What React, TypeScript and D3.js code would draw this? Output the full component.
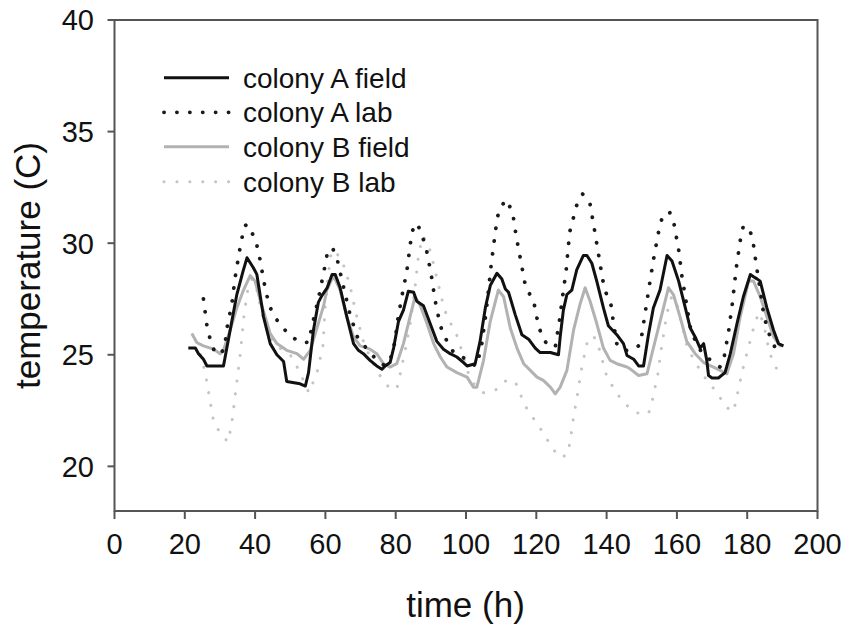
import React from 'react';
import * as d3 from 'd3';

const xTicks = [0, 20, 40, 60, 80, 100, 120, 140, 160, 180, 200];
const yTicks = [20, 25, 30, 35, 40];
const seriesNames = ['colony A field', 'colony A lab', 'colony B field', 'colony B lab'];

const colonyAField: [number, number][] = [
  [21, 25.3], [23, 25.3], [23.9, 25.05], [25.3, 24.8], [26.3, 24.5], [31, 24.5], [32.9, 26.1], [34.8, 27.7],
  [36.5, 28.7], [37.7, 29.35], [39.5, 28.9], [40.5, 28.6], [42.4, 26.7], [44.3, 25.5], [46.2, 25.0], [48.1, 24.7],
  [49, 23.8], [52.8, 23.7], [54.3, 23.6], [55.2, 24.2], [56.6, 26.1], [58, 27.35], [59, 27.65], [60.5, 28.0],
  [61.9, 28.6], [62.8, 28.6], [64.2, 28.0], [66.1, 26.7], [68, 25.5], [69.4, 25.2], [70.8, 25.05], [72.7, 24.75],
  [74.6, 24.5], [76.1, 24.35], [77, 24.5], [78.4, 24.65], [79.4, 25.3], [80.8, 26.5], [82.2, 27.0], [83.6, 27.85],
  [85.1, 27.8], [86, 27.4], [87.9, 27.2], [89.8, 26.4], [91.7, 25.6], [93.6, 25.25], [95.5, 25.05], [97.4, 24.9],
  [99.3, 24.65], [100.3, 24.5], [102.6, 24.6], [104, 25.6], [105.5, 27.1], [106.9, 28.1], [108.8, 28.65], [110.2, 28.4],
  [111.2, 27.95], [112.1, 27.8], [114, 26.8], [115.9, 25.9], [117.8, 25.7], [119.7, 25.3], [121.1, 25.1], [124, 25.1],
  [126.3, 25.0], [126.8, 25.8], [127.7, 27.0], [128.7, 27.7], [130.1, 27.9], [131.5, 28.8], [133.4, 29.45], [134.4, 29.45],
  [135.8, 29.1], [137.2, 28.3], [139.1, 27.1], [140.5, 26.3], [142.9, 25.9], [144.8, 25.5], [145.8, 24.97], [147.7, 24.8],
  [149.1, 24.5], [150.5, 24.5], [151.9, 25.9], [153.3, 27.1], [155.2, 27.9], [157.2, 29.45], [158.6, 29.2], [160.5, 28.3],
  [162.4, 27.1], [163.8, 26.2], [165.2, 25.8], [166.6, 25.3], [167.6, 25.5], [168.5, 24.75], [169, 24.07], [170, 23.96],
  [171.8, 23.96], [173.7, 24.2], [175.2, 25.05], [177.1, 26.4], [178.9, 27.6], [180.9, 28.6], [181.8, 28.5], [182.8, 28.4],
  [183.7, 28.3], [185.6, 27.1], [187.5, 26.1], [188.9, 25.5], [190.3, 25.4],
];

const colonyBField: [number, number][] = [
  [22, 25.95], [23.4, 25.55], [25.3, 25.4], [28.2, 25.25], [30.1, 25.05], [31, 25.2], [32.9, 26.1], [34.8, 27.1],
  [36.7, 27.9], [38.6, 28.55], [40, 28.3], [41.5, 27.4], [42.9, 26.7], [44.3, 25.95], [46.2, 25.5], [49, 25.2],
  [51.9, 25.05], [53.8, 24.8], [55.7, 25.2], [57.6, 26.2], [59.5, 27.2], [60.4, 27.9], [62.3, 28.55], [64.2, 27.9],
  [66.1, 26.7], [68, 25.8], [69.9, 25.4], [72.7, 25.25], [74.6, 25.05], [76.5, 24.6], [78.4, 24.45], [80.3, 24.6],
  [82.2, 25.5], [83.6, 26.4], [85.5, 27.6], [87, 27.2], [88.9, 26.4], [90.8, 25.5], [92.7, 24.9], [94.6, 24.45],
  [97.4, 24.2], [100.3, 24.0], [102.1, 23.55], [103.1, 23.55], [105, 24.75], [106.9, 26.5], [109.2, 27.9], [110.7, 27.6],
  [112.6, 26.2], [114.5, 25.3], [116.4, 24.6], [118.3, 24.3], [120.2, 24.0], [122, 23.85], [124, 23.55], [125.4, 23.25],
  [126.8, 23.55], [128.7, 24.3], [130.6, 26.1], [132.5, 27.3], [133.9, 28.0], [135.3, 27.4], [137.2, 26.4], [139.1, 25.3],
  [141, 24.75], [142.9, 24.6], [145.8, 24.45], [146.7, 24.37], [149.1, 24.07], [151.5, 24.15], [153.3, 25.3], [155.7, 26.8],
  [157.6, 28.0], [159, 27.7], [160.9, 26.7], [162.8, 25.6], [165.2, 25.05], [167.6, 24.65], [170.4, 24.45], [172.3, 24.3],
  [174.2, 24.15], [176.1, 25.05], [178, 26.7], [180.4, 28.3], [181.8, 28.3], [183.7, 27.6], [185.6, 26.7], [187.5, 25.8],
  [189.4, 25.4], [190.3, 25.4],
];

const colonyALab: [number, number][] = [
  [25.3, 27.5], [26.3, 26.3], [27.5, 25.5], [28.5, 25.15], [30, 25.0], [31.3, 25.3], [32, 26.2], [33.4, 27.3],
  [34.3, 28.45], [35.5, 29.6], [36.9, 30.75], [37.7, 30.85], [38.6, 30.65], [40.3, 30.05], [41.5, 29.2], [42.4, 28.35],
  [44, 27.2], [46, 26.6], [48.8, 26.05], [52.2, 25.6], [55.2, 25.55], [56.5, 26.5], [58, 27.5], [59.9, 29.0],
  [60.6, 29.6], [62, 29.8], [63.4, 29.25], [64.2, 28.7], [65.5, 27.8], [67, 26.8], [69.1, 25.8], [72.1, 25.2],
  [75, 24.7], [77, 24.5], [78.5, 24.8], [79.8, 25.6], [80.5, 26.5], [81.8, 27.65], [83.2, 28.8], [84.6, 30.5],
  [85.8, 30.9], [87, 30.6], [88.7, 29.75], [90.1, 28.6], [91.2, 27.45], [92.7, 26.3], [94.1, 25.75], [96.3, 25.15],
  [99, 24.9], [101.5, 24.6], [103.1, 24.5], [104.5, 25.5], [105.8, 27.0], [107.2, 29.1], [108.6, 30.8], [109.2, 31.35],
  [111.2, 31.95], [113.2, 31.45], [114.3, 30.3], [115.6, 29.2], [117, 28.0], [119.2, 27.45], [120.6, 26.3], [122, 25.7],
  [123.5, 25.4], [125.4, 25.35], [126.6, 26.55], [127.3, 27.4], [128.5, 28.8], [129.5, 30.5], [131.5, 31.7], [133.2, 32.2],
  [135.3, 31.75], [136.5, 30.65], [137.7, 29.5], [138.9, 28.35], [139.9, 27.75], [141.3, 27.2], [141.8, 26.6], [142.4, 26.0],
  [142.9, 25.5], [144.5, 25.2], [147, 25.2], [149.6, 25.45], [150.7, 26.6], [152.4, 28.35], [153.6, 29.5], [154.9, 30.6],
  [155.9, 31.2], [157.9, 31.4], [159.2, 30.85], [160.5, 29.7], [161.4, 28.55], [162.6, 27.4], [163.8, 26.25], [165.5, 25.5],
  [167.5, 25.0], [169.3, 24.8], [172.3, 24.45], [173.5, 24.95], [174.7, 26.05], [175.7, 27.2], [176.9, 28.9], [178, 30.1],
  [178.8, 30.7], [180.4, 30.75], [181.6, 30.15], [182.6, 29.0], [183.5, 28.1], [184.8, 26.7], [186.5, 25.8], [188.9, 25.0],
];

const colonyBLab: [number, number][] = [
  [24.5, 25.0], [25.8, 24.2], [27, 23.1], [28.2, 22.0], [30.6, 21.35], [32.4, 21.1], [33.6, 22.2], [34.5, 23.4],
  [35.8, 25.05], [36.9, 26.85], [38, 28.0], [39.2, 28.4], [40.5, 27.9], [42, 26.8], [44, 25.8], [47, 25.3],
  [50, 25.0], [52.5, 24.3], [55.3, 23.3], [57.6, 24.2], [59.3, 25.4], [60, 27.3], [61.4, 29.4], [62.5, 29.7],
  [64.8, 29.2], [67, 28.1], [68.5, 27.0], [69.4, 26.4], [71, 25.5], [73, 24.8], [75.6, 24.05], [78, 23.55],
  [80.3, 23.45], [81.1, 24.0], [82.7, 25.2], [84.1, 26.35], [85.5, 28.0], [86.5, 29.5], [87.7, 30.3], [89, 30.05],
  [90.1, 29.5], [91, 28.9], [93.6, 27.2], [94.8, 26.6], [96.9, 26.1], [98.2, 25.5], [100.3, 24.3], [102.3, 23.7],
  [105, 23.3], [108.8, 23.45], [111.4, 23.85], [114, 23.8], [115.4, 23.25], [117.1, 22.65], [119.4, 22.1], [122, 21.5],
  [124.2, 20.9], [126.6, 20.4], [128.7, 20.5], [129.5, 21.0], [130.6, 22.2], [131.8, 23.3], [133, 24.5], [134.6, 25.65],
  [135.8, 25.85], [137.1, 25.7], [138.2, 25.1], [140.1, 24.0], [142.2, 23.45], [144.8, 22.85], [148.4, 22.4], [151.9, 22.35],
  [153, 22.95], [154.6, 24.15], [155.5, 25.2], [156.7, 26.4], [157.4, 27.0], [158.5, 27.6], [160, 27.3], [161.5, 26.3],
  [163, 25.3], [166.6, 24.3], [169, 23.75], [171.8, 23.25], [173.5, 22.7], [176.1, 22.45], [176.9, 23.0], [178.5, 24.2],
  [180.4, 25.35], [182.3, 26.5], [183.5, 26.9], [184.8, 26.3], [186.2, 25.2], [187.5, 24.6], [189.9, 24.0],
];

const W = 849;
const H = 629;
const FONT = '"Liberation Sans", Arial, Helvetica, sans-serif';

const styles = [
  { stroke: '#111', width: 3, dash: undefined as string | undefined, cap: 'butt' },
  { stroke: '#1a1a1a', width: 3.8, dash: '0.1 12.8', cap: 'round' },
  { stroke: '#b2b2b2', width: 3, dash: undefined as string | undefined, cap: 'butt' },
  { stroke: '#c4c4c4', width: 3, dash: '0.1 12.8', cap: 'round' },
];

export default function App() {
  const x = d3.scaleLinear().domain([0, 200]).range([114.5, 817.5]);
  const y = d3.scaleLinear().domain([18, 40]).range([511, 20]);
  const line = d3
    .line<[number, number]>()
    .x((d) => x(d[0]))
    .y((d) => y(d[1]))
    .curve(d3.curveLinear);

  const data = [colonyAField, colonyALab, colonyBField, colonyBLab];
  const drawOrder = [3, 2, 1, 0];
  const legendRows = [77.7, 112.3, 146.7, 181.7];

  return (
    <svg
      width={W}
      height={H}
      viewBox={`0 0 ${W} ${H}`}
      style={{ position: 'absolute', left: 0, top: 0, background: '#fff' }}
      fontFamily={FONT}
    >
      <rect x={0} y={0} width={W} height={H} fill="#fff" />
      {drawOrder.map((i) => (
        <path
          key={i}
          d={line(data[i]) || ''}
          fill="none"
          stroke={styles[i].stroke}
          strokeWidth={styles[i].width}
          strokeDasharray={styles[i].dash}
          strokeLinecap={styles[i].cap as any}
          strokeLinejoin="round"
        />
      ))}
      <rect
        x={x(0)}
        y={y(40)}
        width={x(200) - x(0)}
        height={y(18) - y(40)}
        fill="none"
        stroke="#555"
        strokeWidth={2}
      />
      {xTicks.map((t) => (
        <g key={t}>
          <line x1={x(t)} x2={x(t)} y1={y(18)} y2={y(18) + 8} stroke="#555" strokeWidth={2} />
          <text x={x(t)} y={554} textAnchor="middle" fontSize={29} fill="#111">
            {t}
          </text>
        </g>
      ))}
      {yTicks.map((t) => (
        <g key={t}>
          <line x1={x(0) - 7} x2={x(0)} y1={y(t)} y2={y(t)} stroke="#555" strokeWidth={2} />
          <text x={94} y={y(t)} dy="0.36em" textAnchor="end" fontSize={29} fill="#111">
            {t}
          </text>
        </g>
      ))}
      <text x={465.5} y={617} textAnchor="middle" fontSize={35} fill="#111">
        time (h)
      </text>
      <text
        transform={`translate(40,${(y(40) + y(18)) / 2}) rotate(-90)`}
        textAnchor="middle"
        fontSize={35}
        fill="#111"
      >
        temperature (C)
      </text>
      {seriesNames.map((name, i) => (
        <g key={name}>
          <line
            x1={164}
            x2={229}
            y1={legendRows[i]}
            y2={legendRows[i]}
            stroke={styles[i].stroke}
            strokeWidth={styles[i].width}
            strokeDasharray={styles[i].dash}
            strokeLinecap={styles[i].cap as any}
          />
          <text x={243} y={legendRows[i]} dy="0.36em" fontSize={28} fill="#111">
            {name}
          </text>
        </g>
      ))}
    </svg>
  );
}
